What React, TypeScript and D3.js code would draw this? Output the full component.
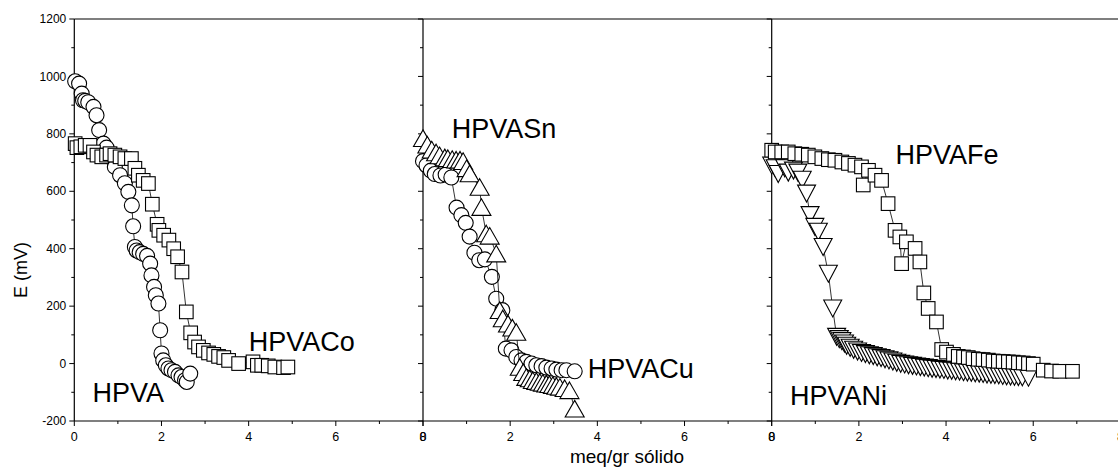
import React from "react";
import * as d3 from "d3";

// E (mV) vs meq/gr sólido, one array per series: [x, E]
const hpva: [number, number][] = [
  [0.02, 983], [0.11, 975], [0.17, 940], [0.2, 917], [0.25, 915], [0.32, 910], [0.44, 894],
  [0.51, 865], [0.57, 813], [0.67, 766], [0.74, 752], [0.82, 720], [0.93, 685], [1.05, 656],
  [1.16, 628], [1.24, 598], [1.32, 551], [1.35, 478], [1.39, 406], [1.43, 394], [1.5, 388],
  [1.58, 382], [1.67, 375], [1.74, 348], [1.77, 307], [1.83, 267], [1.87, 238], [1.93, 209],
  [1.97, 116], [2.0, 35], [2.04, 11], [2.1, -6], [2.16, -17], [2.23, -23], [2.31, -29],
  [2.39, -41], [2.46, -47], [2.54, -58], [2.58, -64], [2.66, -35],
];

const hpvaCo: [number, number][] = [
  [0.02, 766], [0.06, 752], [0.15, 755], [0.25, 760], [0.36, 760], [0.44, 737], [0.52, 726],
  [0.63, 720], [0.74, 726], [0.82, 731], [0.93, 726], [1.05, 720], [1.16, 714], [1.31, 714],
  [1.39, 680], [1.47, 656], [1.58, 638], [1.7, 627], [1.79, 555], [1.9, 485], [1.94, 464],
  [2.05, 447], [2.17, 430], [2.28, 400], [2.37, 372], [2.47, 319], [2.57, 180], [2.67, 107],
  [2.76, 75], [2.85, 58], [2.96, 46], [3.08, 37], [3.2, 32], [3.31, 25], [3.43, 21], [3.54, 11],
  [3.77, 0], [4.1, 6], [4.2, -6], [4.3, -6], [4.45, -8], [4.6, -12], [4.8, -14], [4.9, -12],
];

const hpvaCu: [number, number][] = [
  [0.0, 705], [0.08, 690], [0.18, 672], [0.27, 660], [0.4, 655], [0.52, 658], [0.65, 648],
  [0.77, 543], [0.88, 517], [0.98, 490], [1.07, 442], [1.18, 386], [1.29, 360], [1.42, 363],
  [1.58, 302], [1.68, 226], [1.82, 186], [1.9, 52], [2.03, 46], [2.14, 23], [2.26, 11],
  [2.37, 6], [2.49, 0], [2.6, -6], [2.72, -9], [2.83, -14], [2.95, -17], [3.06, -21],
  [3.18, -23], [3.29, -23], [3.48, -27],
];

const hpvaSn: [number, number][] = [
  [0.0, 785], [0.1, 762], [0.2, 745], [0.3, 735], [0.38, 725], [0.5, 718], [0.57, 715],
  [0.67, 712], [0.76, 710], [0.85, 710], [0.92, 705], [1.0, 680], [1.07, 662], [1.3, 615],
  [1.34, 545], [1.45, 453], [1.53, 445], [1.68, 383], [1.76, 186], [1.83, 157], [1.95, 139],
  [2.05, 125], [2.14, 110], [2.22, -12], [2.3, -30], [2.37, -47], [2.45, -52], [2.52, -58],
  [2.6, -61], [2.68, -64], [2.75, -67], [2.83, -70], [2.9, -72], [2.98, -75], [3.06, -78],
  [3.14, -81], [3.25, -86], [3.36, -93], [3.48, -157],
];

const hpvaNi: [number, number][] = [
  [0.0, 690], [0.08, 680], [0.15, 660], [0.3, 680], [0.38, 665], [0.5, 672], [0.6, 665],
  [0.7, 640], [0.8, 592], [0.88, 517], [0.99, 476], [1.07, 459], [1.18, 406], [1.3, 313],
  [1.4, 192], [1.49, 93], [1.55, 85], [1.61, 78], [1.67, 70], [1.72, 62], [1.8, 55],
  [1.88, 48], [1.97, 42], [2.06, 37], [2.15, 33], [2.24, 29], [2.33, 26], [2.42, 22],
  [2.51, 19], [2.6, 15], [2.69, 11], [2.78, 7], [2.87, 3], [2.96, -1], [3.05, -3], [3.14, -6],
  [3.23, -8], [3.32, -10], [3.41, -12], [3.5, -14], [3.59, -16], [3.68, -18], [3.77, -19],
  [3.86, -21], [3.95, -22], [4.04, -24], [4.13, -25], [4.22, -27], [4.31, -28], [4.4, -30],
  [4.49, -31], [4.58, -32], [4.67, -34], [4.76, -35], [4.85, -36], [4.94, -38], [5.03, -39],
  [5.12, -40], [5.21, -41], [5.3, -43], [5.39, -44], [5.48, -45], [5.57, -46], [5.66, -47],
  [5.75, -48], [5.89, -49],
];

const hpvaFe: [number, number][] = [
  [0, 743], [0.08, 737], [0.23, 737], [0.38, 737], [0.53, 731], [0.69, 729], [0.84, 726],
  [0.99, 720], [1.15, 714], [1.3, 710], [1.45, 708], [1.61, 702], [1.76, 697], [1.91, 691],
  [2.06, 685], [2.1, 622], [2.22, 673], [2.37, 656], [2.52, 638], [2.67, 557], [2.83, 464],
  [2.94, 441], [2.98, 348], [3.09, 424], [3.29, 401], [3.4, 354], [3.49, 246], [3.59, 192],
  [3.78, 145], [3.9, 49], [4.01, 40], [4.17, 32], [4.28, 25], [4.4, 23], [4.51, 21],
  [4.62, 17], [4.74, 15], [4.85, 14], [4.97, 12], [5.08, 9], [5.2, 8], [5.31, 7], [5.43, 6],
  [5.54, 5], [5.66, 3], [5.77, 2], [5.89, 0], [6.0, -2], [6.23, -23], [6.42, -26],
  [6.61, -27], [6.9, -27],
];

const xTickLabels = ["0", "2", "4", "6", "8"];
const yTickLabels = ["-200", "0", "200", "400", "600", "800", "1000", "1200"];

type Shape = "circle" | "square" | "up" | "down";

const panels: { series: { data: [number, number][]; shape: Shape }[]; labels: { text: string; x: number; y: number }[] }[] = [
  {
    series: [{ data: hpva, shape: "circle" }, { data: hpvaCo, shape: "square" }],
    labels: [{ text: "HPVA", x: 0.42, y: -134 }, { text: "HPVACo", x: 4.0, y: 45 }],
  },
  {
    series: [{ data: hpvaCu, shape: "circle" }, { data: hpvaSn, shape: "up" }],
    labels: [{ text: "HPVASn", x: 0.66, y: 785 }, { text: "HPVACu", x: 3.78, y: -50 }],
  },
  {
    series: [{ data: hpvaNi, shape: "down" }, { data: hpvaFe, shape: "square" }],
    labels: [{ text: "HPVANi", x: 0.42, y: -145 }, { text: "HPVAFe", x: 2.84, y: 695 }],
  },
];

const W = 1118;
const H = 468;
const x0 = 74.3;
const panelW = 348.7;
const font = "'Liberation Sans', Arial, sans-serif";

function Marker({ shape, cx, cy }: { shape: Shape; cx: number; cy: number }) {
  const common = { fill: "#fff", stroke: "#000", strokeWidth: 1.1 };
  if (shape === "circle") return <circle cx={cx} cy={cy} r={7.5} {...common} />;
  if (shape === "square") return <rect x={cx - 6.8} y={cy - 6.8} width={13.6} height={13.6} {...common} />;
  if (shape === "up")
    return <polygon points={`${cx},${cy - 8.3} ${cx + 9.5},${cy + 8.3} ${cx - 9.5},${cy + 8.3}`} {...common} />;
  return <polygon points={`${cx},${cy + 8.5} ${cx + 9},${cy - 8.5} ${cx - 9},${cy - 8.5}`} {...common} />;
}

export default function App() {
  const y = d3.scaleLinear().domain([-200, 1200]).range([421, 19]);
  const majorY = y.ticks(7);
  const minorY = y.ticks(14).filter((v) => !majorY.includes(v));

  return (
    <svg width={W} height={H} style={{ position: "absolute", left: 0, top: 0, background: "#fff" }}>
      <rect width={W} height={H} fill="#fff" />
      <line x1={x0} x2={W} y1={19} y2={19} stroke="#000" strokeWidth={1.2} />
      <line x1={x0} x2={W} y1={421} y2={421} stroke="#000" strokeWidth={1.2} />
      {panels.map((p, i) => {
        const left = x0 + i * panelW;
        const x = d3.scaleLinear().domain([0, 8]).range([left, left + panelW]);
        const majorX = x.ticks(4);
        const minorX = x.ticks(8).filter((v) => !majorX.includes(v));
        const line = d3
          .line<[number, number]>()
          .x((d) => x(d[0]))
          .y((d) => y(d[1]));
        return (
          <g key={i}>
            <line x1={left} x2={left} y1={19} y2={421} stroke="#000" strokeWidth={1.2} />
            {majorY.map((v) => (
              <line key={"my" + v} x1={left - 5} x2={left} y1={y(v)} y2={y(v)} stroke="#000" />
            ))}
            {minorY.map((v) => (
              <line key={"ny" + v} x1={left - 3} x2={left} y1={y(v)} y2={y(v)} stroke="#000" />
            ))}
            {majorX.map((v, k) => (
              <g key={"mx" + v}>
                <line x1={x(v)} x2={x(v)} y1={421} y2={426} stroke="#000" />
                <text x={x(v)} y={441} textAnchor="middle" fontSize={12.5} fontFamily={font}>
                  {xTickLabels[k]}
                </text>
              </g>
            ))}
            {minorX.map((v) => (
              <line key={"nx" + v} x1={x(v)} x2={x(v)} y1={421} y2={424} stroke="#000" />
            ))}
            {p.series.map((s, j) => (
              <g key={j}>
                <path d={line(s.data) ?? ""} fill="none" stroke="#000" strokeWidth={0.8} />
                {s.data.map((d, k) => (
                  <Marker key={k} shape={s.shape} cx={x(d[0])} cy={y(d[1])} />
                ))}
              </g>
            ))}
            {p.labels.map((l) => (
              <text key={l.text} x={x(l.x)} y={y(l.y)} fontSize={27} fontFamily={font}>
                {l.text}
              </text>
            ))}
          </g>
        );
      })}
      {majorY.map((v, k) => (
        <text key={v} x={x0 - 8} y={y(v)} dy="0.35em" textAnchor="end" fontSize={12} fontFamily={font}>
          {yTickLabels[k]}
        </text>
      ))}
      <text
        transform={`translate(27,270) rotate(-90)`}
        textAnchor="middle"
        fontSize={18}
        fontFamily={font}
      >
        E (mV)
      </text>
      <text x={627} y={463} textAnchor="middle" fontSize={19} fontFamily={font}>
        meq/gr sólido
      </text>
    </svg>
  );
}
